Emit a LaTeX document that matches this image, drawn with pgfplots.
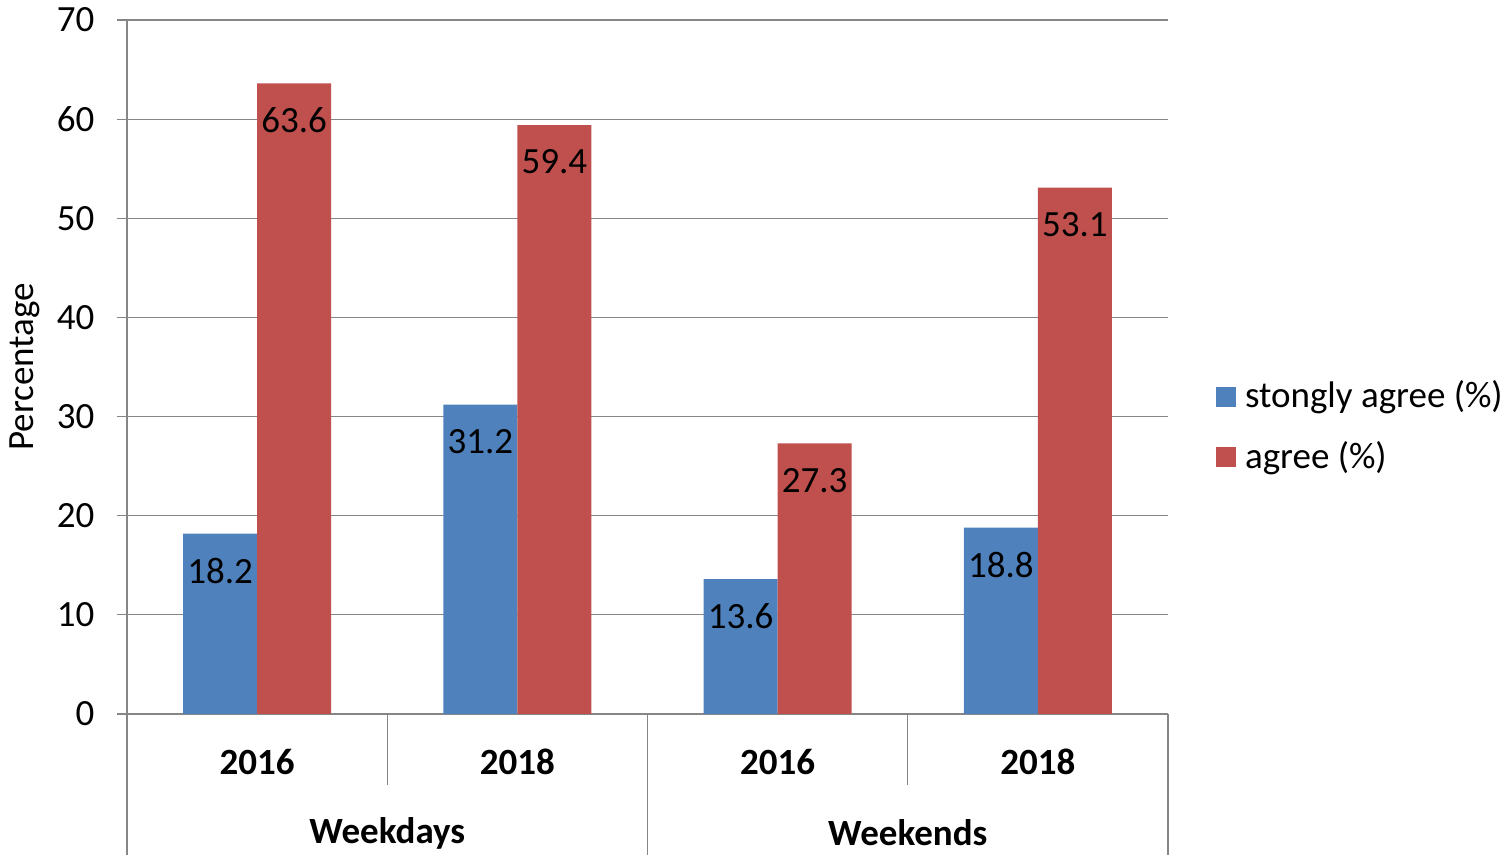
\documentclass[border=0pt]{standalone}
\usepackage{fontspec}
\setmainfont{Carlito}
\usepackage{pgfplots}
\pgfplotsset{compat=1.18}
\definecolor{serA}{HTML}{4F81BD}
\definecolor{serB}{HTML}{C0504D}
\definecolor{gridc}{HTML}{868686}

\begin{document}
\fontsize{18.5}{22}\selectfont
\begin{tikzpicture}
% page size = 1509 x 855 px at 0.5pt per px
\useasboundingbox (-63.5pt,-70.5pt) rectangle (691pt,357pt);
\begin{axis}[
    at={(0,0)}, anchor=south west,
    scale only axis, width=520.5pt, height=347pt,
    ybar=0pt, bar width=37pt,
    xmin=-0.5, xmax=3.5, ymin=0, ymax=70,
    ytick={0,10,...,70},
    xtick={0,1,2,3}, xticklabels={2016,2018,2016,2018},
    xticklabel style={font=\bfseries, anchor=center, yshift=-19pt},
    x tick style={draw=none},
    axis x line*=bottom, axis y line*=left,
    axis line style={gridc, line width=0.6pt},
    ymajorgrids, grid style={gridc, line width=0.6pt},
    y tick style={gridc, line width=0.6pt},
    tick align=outside, major tick length=5pt,
    yticklabel style={xshift=-5pt},
    /pgf/number format/assume math mode=true,
    ylabel={Percentage},
    every axis y label/.style={at={(rel axis cs:0,0.5)}, xshift=-51pt, rotate=90, anchor=center},
    nodes near coords,
    every node near coord/.append style={anchor=center, yshift=-18.5pt, text=black},
    legend style={draw=none, fill=none, at={(rel axis cs:1.04,0.4135)}, anchor=west,
                  row sep=10pt},
    legend cell align=left,
    clip=false,
]
\addplot[fill=serA, draw=none,
  legend image code/.code={\fill[serA] (0pt,-5pt) rectangle (10pt,5pt); \path (12.5pt,0pt);}]
  coordinates {(0,18.2) (1,31.2) (2,13.6) (3,18.8)};
\addplot[fill=serB, draw=none,
  legend image code/.code={\fill[serB] (0pt,-5pt) rectangle (10pt,5pt); \path (12.5pt,0pt);}]
  coordinates {(0,63.6) (1,59.4) (2,27.3) (3,53.1)};
\legend{stongly agree (\%), agree (\%)}

% category group dividers
\draw[gridc, line width=0.6pt] (axis cs:-0.5,0) -- ++(0pt,-70.5pt);
\draw[gridc, line width=0.6pt] (axis cs:0.5,0) -- ++(0pt,-35.5pt);
\draw[gridc, line width=0.6pt] (axis cs:1.5,0) -- ++(0pt,-70.5pt);
\draw[gridc, line width=0.6pt] (axis cs:2.5,0) -- ++(0pt,-35.5pt);
\draw[gridc, line width=0.6pt] (axis cs:3.5,0) -- ++(0pt,-70.5pt);
\node[font=\bfseries] at (axis cs:0.5,0) [yshift=-59.5pt] {Weekdays};
\node[font=\bfseries] at (axis cs:2.5,0) [yshift=-59.5pt] {Weekends};
\end{axis}
\end{tikzpicture}
\end{document}
